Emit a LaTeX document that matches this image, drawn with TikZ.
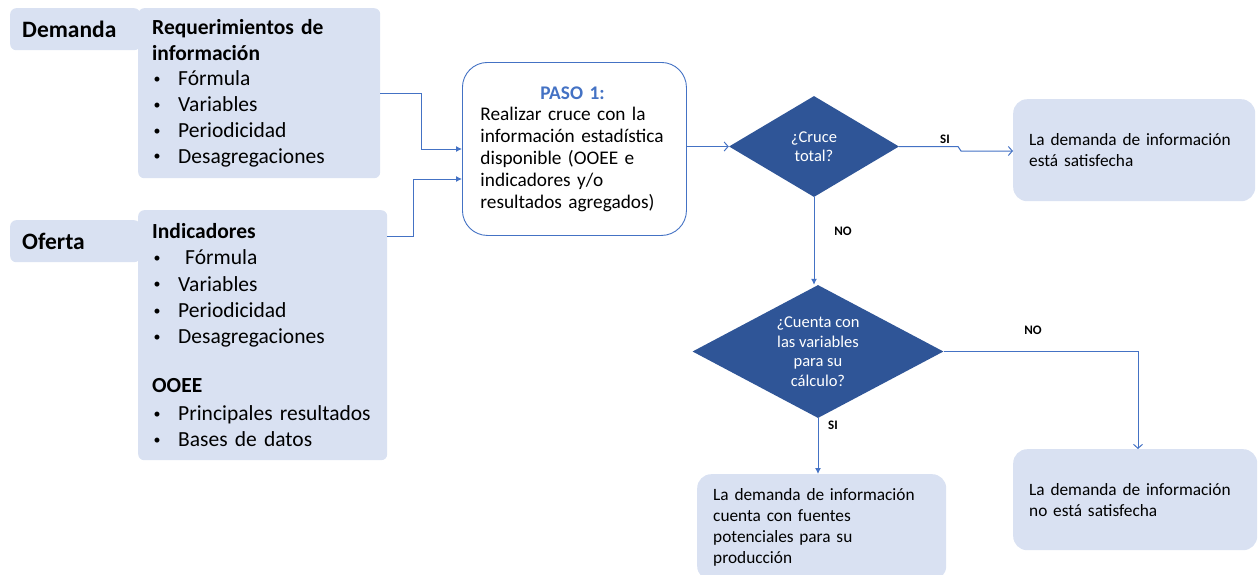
\documentclass[tikz,border=0pt]{standalone}
\usepackage{fontspec}
\setmainfont{Carlito}
\usetikzlibrary{shapes.geometric,arrows.meta}
\definecolor{boxfill}{RGB}{217,225,242}
\definecolor{linecol}{RGB}{68,114,196}
\definecolor{dcol}{RGB}{47,85,151}
\newcommand\bul{\makebox[26pt][l]{\hspace{1.5pt}\raisebox{2.4pt}{\fontsize{14}{14}\selectfont\textbullet}}}
\tikzset{
  tabbox/.style={fill=boxfill, rounded corners=6pt, anchor=north west, align=left,
    inner xsep=12pt, text width=106pt, minimum width=130pt, minimum height=42pt,
    font=\fontsize{23.5}{26}\selectfont\bfseries},
  listbox/.style={fill=boxfill, rounded corners=6pt, anchor=north west, align=left,
    inner xsep=14pt, font=\fontsize{21.5}{25.8}\selectfont},
  resbox/.style={fill=boxfill, rounded corners=14pt, anchor=north west, align=left,
    inner xsep=16pt, font=\fontsize{17.3}{21}\selectfont},
  pasobox/.style={draw=linecol, line width=0.9pt, fill=white, rounded corners=25pt,
    anchor=north west, align=left, inner xsep=18pt, text width=188pt,
    minimum width=224pt, minimum height=173pt, font=\fontsize{19.3}{21.8}\selectfont},
  decision/.style={diamond, fill=dcol, text=white, inner sep=0pt, align=center},
  conn/.style={draw=linecol, line width=1pt},
  fillhead/.style={-{Latex[length=6pt,width=6pt]}},
  openhead/.style={-{Straight Barb[length=4pt,width=9pt]}},
  lbl/.style={font=\fontsize{13}{15}\selectfont\bfseries, inner sep=0pt}
}
\begin{document}
\begin{tikzpicture}[x=1pt,y=-1pt]
\useasboundingbox (0,0) rectangle (1259,574);
% left side
\node[tabbox] (dem) at (10,8) {Demanda};
\node[listbox, text width=214pt, minimum width=242pt, minimum height=170pt] (req) at (138,8)
  {{\bfseries Requerimientos de\\información}\\
   \bul Fórmula\\ \bul Variables\\ \bul Periodicidad\\ \bul Desagregaciones};
\node[tabbox] (ofe) at (10,220) {Oferta};
\node[listbox, text width=221pt, minimum width=249pt, minimum height=250pt,
  font=\fontsize{21.5}{26.3}\selectfont] (ind) at (138,210)
  {{\bfseries Indicadores}\\
   \bul\hspace{7pt}Fórmula\\ \bul Variables\\ \bul Periodicidad\\ \bul Desagregaciones\\[22pt]
   {\bfseries OOEE}\\[2pt]
   \bul Principales resultados\\ \bul Bases de datos};
% paso 1
\node[pasobox] (paso) at (462,62)
  {\makebox[188pt][c]{\hspace{-4pt}\color{linecol}\bfseries PASO 1:}\\
   Realizar cruce con la\\ información estadística\\ disponible (OOEE e\\ indicadores y/o\\ resultados agregados)};
% decisions
\node[decision, minimum width=170pt, minimum height=101pt, aspect=1.7,
  font=\fontsize{16.5}{18.5}\selectfont] (d1) at (814,146.5) {¿Cruce\\total?};
\node[decision, minimum width=251pt, minimum height=133pt, aspect=1.89,
  font=\fontsize{16.5}{19.5}\selectfont] (d2) at (818,351.5) {¿Cuenta con\\las variables\\para su\\cálculo?};
% results
\node[resbox, text width=210pt, minimum width=242pt, minimum height=102pt] (sat) at (1013,99)
  {La demanda de información\\está satisfecha};
\node[resbox, text width=212pt, minimum width=244pt, minimum height=101pt] (nosat) at (1013,449)
  {La demanda de información\\no está satisfecha};
\node[resbox, text width=217pt, minimum width=249pt, minimum height=106pt] (fue) at (697,474)
  {La demanda de información\\cuenta con fuentes\\potenciales para su\\producción};
% connectors
\coordinate (j1) at (421,149);
\coordinate (j2) at (413,179);
\draw[conn, fillhead] (req.east) -| (j1) -- (j1 -| paso.west);
\draw[conn, fillhead] ([yshift=-26pt]ind.north east) -| (j2) -- (j2 -| paso.west);
\draw[conn, openhead] (d1.west -| paso.east) -- (d1.west);
\coordinate (k1) at (958,146.5);
\coordinate (k2) at (961,151);
\draw[conn, openhead] (d1.east) -- (k1) -- (k2) -- (k2 -| sat.west);
\node[lbl] (si1) at (945,139) {SI};
\draw[conn, fillhead] (d1.south) -- (d1.south |- d2.north);
\node[lbl] (no1) at (843,231) {NO};
\coordinate (k3) at (1138,351.5);
\draw[conn, openhead] (d2.east) -- (k3) -- (k3 |- nosat.north);
\node[lbl] (no2) at (1033,330) {NO};
\draw[conn, fillhead] (d2.south) -- (d2.south |- fue.north);
\node[lbl] (si2) at (833,425) {SI};
\end{tikzpicture}
\end{document}
